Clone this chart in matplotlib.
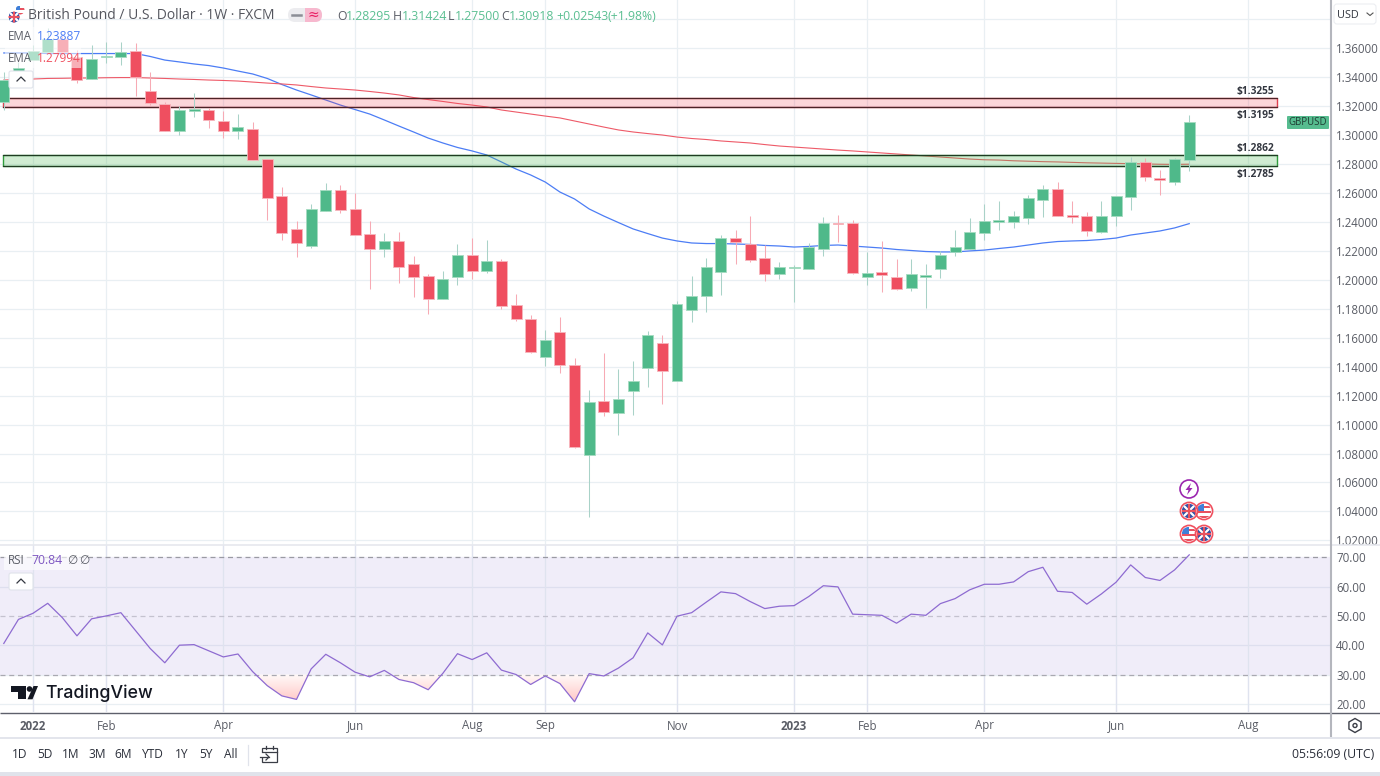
import numpy as np
import matplotlib
matplotlib.use("Agg")
import matplotlib.pyplot as plt
from matplotlib.patches import Rectangle, Circle, FancyBboxPatch, Polygon, RegularPolygon, PathPatch
from matplotlib.path import Path

plt.rcParams['font.family'] = ['Open Sans', 'DejaVu Sans']

opens = [1.3229, 1.3381, 1.3520, 1.3575, 1.3665, 1.3540, 1.3388, 1.3537, 1.3540, 1.3582,
         1.3306, 1.3216, 1.3029, 1.3167, 1.3174, 1.3098, 1.3029, 1.3043, 1.2836, 1.2580,
         1.2352, 1.2234, 1.2476, 1.2621, 1.2490, 1.2317, 1.2213, 1.2269, 1.2110, 1.2027,
         1.1868, 1.2020, 1.2172, 1.2061, 1.2131, 1.1826, 1.1730, 1.1467, 1.1640, 1.1412,
         1.0790, 1.1163, 1.1080, 1.1232, 1.1391, 1.1564, 1.1301, 1.1792, 1.1889, 1.2054,
         1.2289, 1.2248, 1.2151, 1.2041, 1.2082, 1.2075, 1.2213, 1.2393, 1.2393, 1.2020,
         1.2054, 1.2020, 1.1944, 1.2020, 1.2075, 1.2193, 1.2213, 1.2324, 1.2400, 1.2400,
         1.2428, 1.2552, 1.2628, 1.2448, 1.2441, 1.2331, 1.2441, 1.2573, 1.2815, 1.2704,
         1.2676, 1.28295]
highs = [1.3437, 1.3506, 1.3623, 1.3741, 1.3685, 1.3589, 1.3623, 1.3644, 1.3644, 1.3637,
         1.3437, 1.3229, 1.3202, 1.3292, 1.3188, 1.3167, 1.3147, 1.3091, 1.2836, 1.2642,
         1.2407, 1.2524, 1.2669, 1.2656, 1.2600, 1.2407, 1.2324, 1.2331, 1.2165, 1.2041,
         1.2061, 1.2248, 1.2289, 1.2276, 1.2144, 1.1902, 1.1757, 1.1654, 1.1744, 1.1460,
         1.1239, 1.1495, 1.1384, 1.1440, 1.1647, 1.1619, 1.1854, 1.2027, 1.2151, 1.2310,
         1.2345, 1.2441, 1.2241, 1.2124, 1.2103, 1.2255, 1.2435, 1.2448, 1.2414, 1.2193,
         1.2269, 1.2144, 1.2144, 1.2110, 1.2200, 1.2345, 1.2428, 1.2524, 1.2545, 1.2476,
         1.2587, 1.2656, 1.2676, 1.2545, 1.2469, 1.2545, 1.2580, 1.2849, 1.2842, 1.2759,
         1.2842, 1.31424]
lows = [1.3174, 1.3381, 1.3520, 1.3575, 1.3547, 1.3361, 1.3388, 1.3499, 1.3485, 1.3271,
        1.3209, 1.3029, 1.3001, 1.3126, 1.3050, 1.2981, 1.2974, 1.2829, 1.2414, 1.2276,
        1.2158, 1.2220, 1.2476, 1.2462, 1.2307, 1.1937, 1.2158, 1.1978, 1.1882, 1.1764,
        1.1868, 1.1965, 1.2006, 1.2048, 1.1799, 1.1716, 1.1495, 1.1405, 1.1357, 1.0838,
        1.0362, 1.1059, 1.0928, 1.1066, 1.1260, 1.1142, 1.1301, 1.1709, 1.1778, 1.1896,
        1.2110, 1.2124, 1.1992, 1.2006, 1.1847, 1.2075, 1.2165, 1.2262, 1.2041, 1.1965,
        1.1916, 1.1930, 1.1923, 1.1806, 1.2013, 1.2165, 1.2213, 1.2276, 1.2345, 1.2358,
        1.2386, 1.2435, 1.2441, 1.2393, 1.2303, 1.2324, 1.2372, 1.2483, 1.2683, 1.2587,
        1.2656, 1.27500]
closes = [1.3381, 1.3464, 1.3582, 1.3665, 1.3575, 1.3381, 1.3526, 1.3547, 1.3575, 1.3402,
          1.3222, 1.3029, 1.3174, 1.3181, 1.3105, 1.3029, 1.3057, 1.2829, 1.2566, 1.2324,
          1.2255, 1.2490, 1.2621, 1.2483, 1.2310, 1.2213, 1.2269, 1.2089, 1.2020, 1.1868,
          1.2006, 1.2172, 1.2061, 1.2131, 1.1820, 1.1730, 1.1502, 1.1585, 1.1412, 1.0845,
          1.1156, 1.1087, 1.1177, 1.1301, 1.1619, 1.1370, 1.1833, 1.1889, 1.2089, 1.2289,
          1.2262, 1.2137, 1.2041, 1.2089, 1.2089, 1.2227, 1.2393, 1.2383, 1.2048, 1.2048,
          1.2034, 1.1937, 1.2041, 1.2034, 1.2172, 1.2227, 1.2331, 1.2407, 1.2414, 1.2441,
          1.2566, 1.2628, 1.2441, 1.2434, 1.2338, 1.2441, 1.2580, 1.2815, 1.2711, 1.2690,
          1.2836, 1.30918]
ema_blue = [1.3568, 1.3568, 1.3568, 1.3564, 1.3564, 1.3564, 1.3564, 1.3564, 1.3564, 1.3564,
            1.3544, 1.3519, 1.3506, 1.3492, 1.3481, 1.3464, 1.3443, 1.3423, 1.3392, 1.3350,
            1.3312, 1.3278, 1.3243, 1.3208, 1.3177, 1.3146, 1.3105, 1.3063, 1.3022, 1.2980,
            1.2946, 1.2915, 1.2891, 1.2863, 1.2815, 1.2766, 1.2725, 1.2676, 1.2607, 1.2559,
            1.2490, 1.2441, 1.2396, 1.2352, 1.2320, 1.2289, 1.2269, 1.2255, 1.2251, 1.2251,
            1.2248, 1.2245, 1.2238, 1.2234, 1.2227, 1.2231, 1.2238, 1.2241, 1.2234, 1.2227,
            1.2220, 1.2210, 1.2203, 1.2196, 1.2193, 1.2193, 1.2200, 1.2206, 1.2217, 1.2227,
            1.2241, 1.2255, 1.2265, 1.2269, 1.2272, 1.2279, 1.2289, 1.2310, 1.2324, 1.2338,
            1.2359, 1.23887]
ema_red = [1.3381, 1.3385, 1.3388, 1.3392, 1.3393, 1.3395, 1.3395, 1.3397, 1.3398, 1.3398,
           1.3395, 1.3392, 1.3388, 1.3385, 1.3381, 1.3378, 1.3374, 1.3367, 1.3360, 1.3354,
           1.3347, 1.3336, 1.3326, 1.3319, 1.3312, 1.3302, 1.3291, 1.3278, 1.3260, 1.3246,
           1.3233, 1.3219, 1.3208, 1.3195, 1.3174, 1.3160, 1.3146, 1.3132, 1.3119, 1.3098,
           1.3077, 1.3056, 1.3036, 1.3022, 1.3011, 1.3001, 1.2987, 1.2977, 1.2970, 1.2960,
           1.2953, 1.2946, 1.2935, 1.2925, 1.2918, 1.2911, 1.2904, 1.2897, 1.2891, 1.2884,
           1.2877, 1.2870, 1.2863, 1.2856, 1.2849, 1.2842, 1.2835, 1.2830, 1.2828, 1.2823,
           1.2820, 1.2817, 1.2815, 1.2812, 1.2809, 1.2807, 1.2805, 1.2803, 1.2801, 1.2799,
           1.2798, 1.27994]
rsi_values = [40.6, 48.8, 50.9, 54.3, 49.4, 43.2, 49.0, 50.0, 51.1, 45.0,
              38.9, 34.0, 40.0, 40.2, 38.1, 36.0, 37.0, 31.0, 26.2, 22.7,
              21.5, 31.9, 36.9, 34.0, 30.8, 29.2, 31.4, 28.3, 27.2, 24.8,
              30.4, 37.1, 35.1, 37.4, 31.5, 30.0, 26.6, 29.5, 26.9, 20.7,
              30.3, 29.5, 32.2, 35.7, 44.2, 40.1, 49.9, 51.1, 54.7, 58.2,
              57.6, 54.9, 52.5, 53.3, 53.5, 56.6, 60.3, 59.9, 50.6, 50.4,
              50.2, 47.5, 50.6, 50.2, 54.2, 55.9, 58.9, 60.8, 60.8, 61.6,
              65.1, 66.6, 58.4, 58.0, 54.0, 57.5, 61.5, 67.4, 63.1, 62.1,
              65.7, 70.84]

price_ticks = [1.02, 1.04, 1.06, 1.08, 1.10, 1.12, 1.14, 1.16, 1.18, 1.20, 1.22, 1.24,
               1.26, 1.28, 1.30, 1.32, 1.34, 1.36]
rsi_ticks = [20, 30, 40, 50, 60, 70]
month_weeks = [2, 7, 15, 24, 32, 37, 46, 54, 59, 67, 76, 85]
month_labels = ['2022', 'Feb', 'Apr', 'Jun', 'Aug', 'Sep', 'Nov', '2023', 'Feb', 'Apr', 'Jun', 'Aug']
range_buttons = ['1D', '5D', '1M', '3M', '6M', 'YTD', '1Y', '5Y', 'All']
button_x = [20, 45, 71, 97, 123, 153, 182, 206, 231]

red_zone = [1.3195, 1.3255]
green_zone = [1.2785, 1.2862]
zone_start, zone_end = -0.05, 87.0

GREEN = '#4FB98A'
RED = '#EF4F60'
GRID = '#E9EFF3'
TXT = '#5A5D66'
W, H = 1380, 776

fig = plt.figure(figsize=(W / 100, H / 100), dpi=100, facecolor='white')

def pane(top, bottom, right=1330):
    return fig.add_axes([0, 1 - bottom / H, right / W, (bottom - top) / H])

main = pane(0, 545)
rsi_ax = pane(545, 712)
weeks = np.arange(len(closes))
x_lim = ((0 - 3.8) / 14.635, (1330 - 3.8) / 14.635)

# price pane
main.set_xlim(*x_lim)
main.set_ylim(1.3934 - 545 * 0.000691, 1.3934)
main.set_yticks(price_ticks + [1.38])
main.set_yticklabels(['%.5f' % p for p in price_ticks] + [''], fontsize=8.3, color=TXT)
main.yaxis.tick_right()
main.tick_params(axis='y', length=0, pad=4.5)
main.set_xticks(month_weeks)
main.tick_params(axis='x', length=0, labelbottom=False)
main.grid(True, color=GRID, lw=0.9)
main.set_axisbelow(True)
for s in main.spines.values():
    s.set_visible(False)

main.plot(weeks, ema_blue, color='#4C7DF5', lw=0.9, zorder=2)
main.plot(weeks, ema_red, color='#EE5A68', lw=0.8, zorder=2)

main.add_patch(Rectangle((zone_start, red_zone[0]), zone_end - zone_start, red_zone[1] - red_zone[0],
                         fc=(0.95, 0.2, 0.27, 0.2), ec='#E0404F', lw=1.0, zorder=3))
main.add_patch(Rectangle((zone_start, green_zone[0]), zone_end - zone_start, green_zone[1] - green_zone[0],
                         fc=(0.3, 0.72, 0.33, 0.26), ec='#2F9E3D', lw=1.0, zorder=3))
for z in red_zone + green_zone:
    main.plot([zone_start, zone_end], [z, z], color='#1A1A1A', lw=0.9, alpha=0.75, zorder=3)

opens_a, highs_a, lows_a, closes_a = map(np.array, (opens, highs, lows, closes))
up = closes_a >= opens_a
main.vlines(weeks[up], lows_a[up], highs_a[up], color='#A9D2C8', lw=0.75, zorder=4)
main.vlines(weeks[~up], lows_a[~up], highs_a[~up], color='#F7AAB4', lw=0.75, zorder=4)
main.bar(weeks[up], (closes_a - opens_a)[up], bottom=opens_a[up], width=0.75, color=GREEN,
         edgecolor='#A5DBC1', lw=0.6, zorder=5)
main.bar(weeks[~up], (opens_a - closes_a)[~up], bottom=closes_a[~up], width=0.75, color=RED,
         edgecolor='#F7B7BE', lw=0.6, zorder=5)

for z, lab_y in zip([1.3255, 1.3195, 1.2862, 1.2785], [1.3305, 1.3139, 1.2911, 1.2728]):
    main.text(zone_end - 0.2, lab_y, '$%.4f' % z, ha='right', va='center', fontsize=7.3,
              fontweight='bold', color='#333740', zorder=6)

# RSI pane
rsi_ax.set_xlim(*x_lim)
rsi_ax.set_ylim(70 - (712 - 557.3) / 2.93, 70 + (557.3 - 545) / 2.93)
rsi_ax.set_yticks(rsi_ticks)
rsi_ax.set_yticklabels(['%.2f' % r for r in rsi_ticks], fontsize=8.3, color=TXT)
rsi_ax.yaxis.tick_right()
rsi_ax.tick_params(axis='y', length=0, pad=4.5)
rsi_ax.set_xticks(month_weeks)
rsi_ax.set_xticklabels(month_labels, fontsize=8.3, color=TXT)
rsi_ax.tick_params(axis='x', length=0, pad=5.4)
for lab in rsi_ax.get_xticklabels():
    if lab.get_text() in ('2022', '2023'):
        lab.set_fontweight('bold')
rsi_ax.grid(True, color=GRID, lw=0.9)
rsi_ax.set_axisbelow(True)
for s in rsi_ax.spines.values():
    s.set_visible(False)

rsi_ax.axhspan(30, 70, color='#F0EDF9', lw=0, zorder=1)
for r in [40, 60]:
    rsi_ax.axhline(r, color='#DEDFEF', lw=0.9, zorder=1.1)
for m in month_weeks:
    rsi_ax.axvline(m, color='#DFE3EF', lw=0.9, zorder=1.1)
rsi_ax.axhline(70, color='#9A9AA3', lw=0.9, ls=(0, (4, 3)), zorder=2)
rsi_ax.axhline(50, color='#C4C2CF', lw=0.9, ls=(0, (4, 3)), zorder=2)
rsi_ax.axhline(30, color='#A9A9B1', lw=0.9, ls=(0, (4, 3)), zorder=2)

rsi_a = np.array(rsi_values)
under = rsi_ax.fill_between(weeks, rsi_a, 30, where=rsi_a < 30, interpolate=True, facecolor='none', lw=0)
grad = np.linspace(0, 1, 64).reshape(-1, 1)
under_cmap = matplotlib.colors.LinearSegmentedColormap.from_list('rsi_under', ['#FFFAF9', '#FFC4C2'])
im = rsi_ax.imshow(grad, extent=(x_lim[0], x_lim[1], 20, 30), origin='upper', aspect='auto',
                   cmap=under_cmap, zorder=1.5)
im.set_clip_path(PathPatch(Path.make_compound_path(*under.get_paths()), transform=rsi_ax.transData))
rsi_ax.set_xlim(*x_lim)
rsi_ax.set_ylim(70 - (712 - 557.3) / 2.93, 70 + (557.3 - 545) / 2.93)
rsi_ax.plot(weeks, rsi_values, color='#8E6BD1', lw=0.9, zorder=3)

# chrome drawn in pixel coordinates
ov = fig.add_axes([0, 0, 1, 1], zorder=10)
ov.set_xlim(0, W)
ov.set_ylim(H, 0)
ov.axis('off')
ov.patch.set_alpha(0)

def txt(x, y, s, color=TXT, size=8.6, ha='left', **kw):
    ov.text(x, y, s, color=color, fontsize=size, ha=ha, va='center', **kw)

def hline(y, x0, x1, color, lw=0.9):
    ov.plot([x0, x1], [y, y], color=color, lw=lw, solid_capstyle='butt')

hline(545.3, 0, 1380, '#E6E8EE', 1.2)
hline(712.5, 0, 1380, '#5D606B', 1.0)
hline(737.5, 0, 1380, '#E0E3EB', 1.3)
ov.plot([1330.5, 1330.5], [0, 737], color='#B4B6BD', lw=1.5, solid_capstyle='butt')
ov.add_patch(Rectangle((0, 772), W, 4, fc='#E0E3EB', lw=0))

# legend boxes and collapse buttons
ov.add_patch(Rectangle((5, 27), 76, 41, fc=(1, 1, 1, 0.55), lw=0))
ov.add_patch(Rectangle((4, 552), 85, 18, fc=(1, 1, 1, 0.6), lw=0))
for by in [71, 573]:
    ov.add_patch(FancyBboxPatch((9, by), 24, 17, boxstyle='round,pad=0,rounding_size=2',
                                fc='white', ec='#E0E3EB', lw=0.8))
    ov.plot([17, 21, 25], [by + 10, by + 6, by + 10], color='#333740', lw=0.9)

txt(28, 15.5, 'British Pound / U.S. Dollar · 1W · FXCM', color='#54565E', size=10.0)
ov.add_patch(FancyBboxPatch((288, 8), 34, 14, boxstyle='round,pad=0,rounding_size=7', fc='#ECECEF', lw=0))
ov.add_patch(FancyBboxPatch((305, 8), 17, 14, boxstyle='round,pad=0,rounding_size=7', fc='#F7B8CE', lw=0))
ov.add_patch(Rectangle((305, 8), 8, 14, fc='#F7B8CE', lw=0))
ov.plot([292, 301], [15, 15], color='#8C8E96', lw=1.8)
txt(313, 15, '≈', color='#E91E63', size=10, ha='center', family=['DejaVu Sans'])

ohlc_labels = [(337, 'O', '#5A5D66'), (346, '1.28295', '#5BBF92'), (393, 'H', '#5A5D66'), (402, '1.31424', '#5BBF92'),
               (448, 'L', '#5A5D66'), (455, '1.27500', '#5BBF92'), (501, 'C', '#5A5D66'), (509, '1.30918', '#5BBF92'),
               (556, '+0.02543', '#5BBF92'), (607, '(+1.98%)', '#5BBF92')]
for ox, s, c in ohlc_labels:
    txt(ox, 16, s, color=c, size=8.8)

txt(8, 36, 'EMA', size=8.3)
txt(37, 36, '1.23887', color='#4C7DF5', size=8.6)
txt(8, 58, 'EMA', size=8.3)
txt(37, 58, '1.27994', color='#F0505F', size=8.6)
txt(8, 561, 'RSI', size=8.3)
txt(31, 560.5, '70.84', color='#7E57C2', size=8.8)
txt(67, 561, '∅', size=8.6)
txt(79, 561, '∅', size=8.6)

# right side tags
ov.add_patch(FancyBboxPatch((1334, 4), 42, 20, boxstyle='round,pad=0,rounding_size=3', fc='white', ec='#ECEEF2', lw=0.8))
txt(1337, 15, 'USD', color='#333740', size=7.8)
ov.plot([1367, 1370, 1373], [13, 15.5, 13], color='#555', lw=0.8)
ov.add_patch(FancyBboxPatch((1287, 116), 42, 13, boxstyle='round,pad=0,rounding_size=1', fc='#56BC8F', lw=0))
txt(1308, 122.5, 'GBPUSD', color='#1F3D33', size=6.9, ha='center')

# bottom toolbar
for bx, b in zip(button_x, range_buttons):
    txt(bx, 755, b, color='#2A2E39', size=8.6, ha='center')
ov.plot([248, 248], [745, 765], color='#E0E3EB', lw=0.9)
ov.add_patch(Rectangle((262, 748), 15, 14, fc='none', ec='#3A3D46', lw=0.9))
ov.add_patch(Rectangle((258, 752), 8, 6, fc='white', lw=0))
ov.plot([262, 277], [751.5, 751.5], color='#3A3D46', lw=0.9)
ov.plot([266, 266], [746, 749], color='#3A3D46', lw=0.9)
ov.plot([273, 273], [746, 749], color='#3A3D46', lw=0.9)
ov.plot([260, 269], [757, 757], color='#3A3D46', lw=0.9)
ov.plot([266, 269, 266], [754, 757, 760], color='#3A3D46', lw=0.9)
txt(1374, 755, '05:56:09 (UTC)', color='#2A2E39', size=8.8, ha='right')
ov.add_patch(RegularPolygon((1355, 725.5), 6, radius=7, fc='none', ec='#3A3D46', lw=1.0))
ov.add_patch(Circle((1355, 725.5), 2, fc='none', ec='#3A3D46', lw=1.0))

# TradingView logo
ov.add_patch(Polygon([(11, 686), (26, 686), (26, 699.3), (18, 699.3), (18, 691.5), (11, 691.5)], fc='#131722', lw=0))
ov.add_patch(Circle((29.5, 689), 2.8, fc='#131722', lw=0))
ov.add_patch(Polygon([(33.5, 686), (38, 686), (32.5, 699.3), (27.5, 699.3)], fc='#131722', lw=0))
txt(45, 693.5, 'TradingView', color='#131722', size=12.8, family=['Inter'], fontweight='medium')

def flag(cx, cy, kind, r=7.2, ring=True):
    disc = Circle((cx, cy), r, fc='white', lw=0, zorder=11)
    ov.add_patch(disc)
    parts = []
    if kind == 'uk':
        parts.append(Rectangle((cx - r, cy - r), 2 * r, 2 * r, fc='#2B50A8', lw=0, zorder=11))
        parts.append(ov.plot([cx - r, cx + r], [cy - r, cy + r], color='white', lw=1.6, zorder=12)[0])
        parts.append(ov.plot([cx - r, cx + r], [cy + r, cy - r], color='white', lw=1.6, zorder=12)[0])
        parts.append(ov.plot([cx - r, cx + r], [cy, cy], color='#E8515F', lw=1.6, zorder=12)[0])
        parts.append(ov.plot([cx, cx], [cy - r, cy + r], color='#E8515F', lw=1.6, zorder=12)[0])
    else:
        for k in range(3):
            parts.append(Rectangle((cx - r, cy - r + 4.8 * k + 2.4), 2 * r, 2.2, fc='#E8515F', lw=0, zorder=11))
        parts.append(Rectangle((cx - r, cy - r), r, r * 0.95, fc='#3F7FD8', lw=0, zorder=12))
    for p in parts:
        if isinstance(p, Rectangle):
            ov.add_patch(p)
        p.set_clip_path(disc)
    if ring:
        ov.add_patch(Circle((cx, cy), r + 1.4, fc='none', ec='#F0505F', lw=1.2, zorder=13))

# event badges
ov.add_patch(Circle((1189, 489), 9, fc='white', ec='#9C27B0', lw=1.2, zorder=11))
ov.add_patch(Polygon([(1191, 483), (1185.5, 490), (1188.5, 490), (1187, 495), (1192.5, 488), (1189.5, 488)],
                     fc='#9C27B0', lw=0, zorder=12))
flag(1204, 511, 'us')
flag(1189, 511, 'uk')
flag(1204, 534, 'uk')
flag(1189, 534, 'us')
flag(20, 10, 'us', r=4.5, ring=False)
flag(14, 17, 'uk', r=5.5, ring=False)

fig.savefig('out.png', dpi=100)
